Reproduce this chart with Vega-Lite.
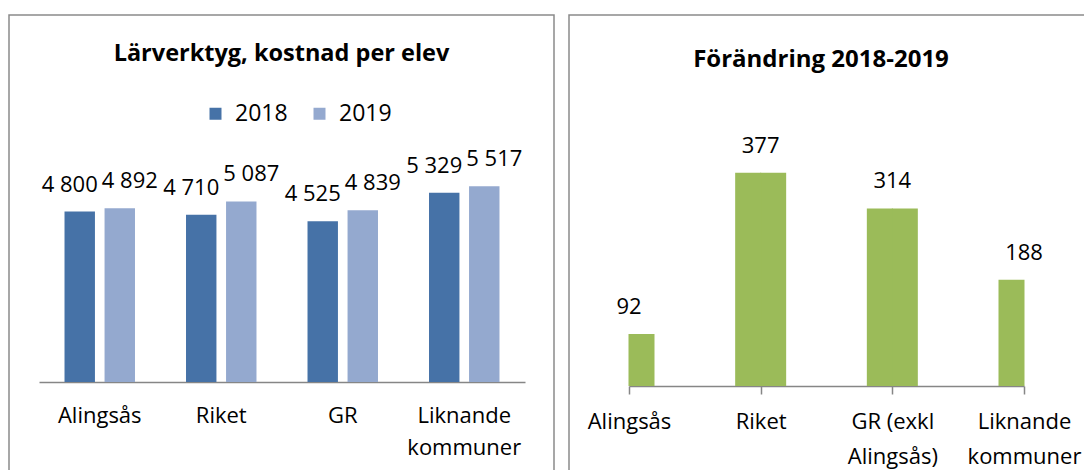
{
  "$schema": "https://vega.github.io/schema/vega-lite/v6.json",
  "padding": {"left": 8, "top": 14, "right": 0, "bottom": 0},
  "background": "white",
  "spacing": 13,
  "config": {
    "font": "Open Sans",
    "view": {"stroke": "#8a8a8a", "strokeWidth": 1.5},
    "locale": {"number": {"decimal": ",", "thousands": " ", "grouping": [3], "currency": ["", " kr"]}},
    "axis": {"labelColor": "#000000", "labelFontSize": 22, "labelFont": "Open Sans", "domainColor": "#868686", "domainWidth": 1.5, "tickColor": "#868686", "tickWidth": 1.5, "grid": false, "labelAngle": 0}
  },
  "datasets": {
    "cost": [
      {"region": "Alingsås", "year": "2018", "value": 4800},
      {"region": "Alingsås", "year": "2019", "value": 4892},
      {"region": "Riket", "year": "2018", "value": 4710},
      {"region": "Riket", "year": "2019", "value": 5087},
      {"region": "GR", "year": "2018", "value": 4525},
      {"region": "GR", "year": "2019", "value": 4839},
      {"region": "Liknande kommuner", "year": "2018", "value": 5329},
      {"region": "Liknande kommuner", "year": "2019", "value": 5517}
    ],
    "change": [
      {"region": "Alingsås", "change": 92},
      {"region": "Riket", "change": 377},
      {"region": "GR (exkl Alingsås)", "change": 314},
      {"region": "Liknande kommuner", "change": 188}
    ]
  },
  "hconcat": [
    {
      "width": 545,
      "height": 456,
      "data": {"name": "cost"},
      "title": {"text": "Lärverktyg, kostnad per elev", "frame": "group", "anchor": "middle", "offset": -50, "fontSize": 23.5, "fontWeight": "bold", "color": "#000000", "font": "Open Sans"},
      "encoding": {
        "x": {
          "field": "region", "type": "nominal",
          "sort": ["Alingsås", "Riket", "GR", "Liknande kommuner"],
          "scale": {"range": [30, 516], "paddingInner": 0.42, "paddingOuter": 0.21},
          "axis": {"title": null, "offset": -89, "ticks": false, "labelPadding": 23, "labelLineHeight": 32,
                   "labelExpr": "datum.label == 'Liknande kommuner' ? ['Liknande', 'kommuner'] : datum.label"}
        },
        "xOffset": {"field": "year", "type": "nominal", "scale": {"paddingInner": 0.24, "paddingOuter": 0}},
        "y": {"field": "value", "type": "quantitative", "scale": {"domain": [-2507, 10338], "nice": false, "zero": false}, "axis": null}
      },
      "layer": [
        {
          "mark": {"type": "bar"},
          "encoding": {
            "color": {
              "field": "year", "type": "nominal",
              "scale": {"domain": ["2018", "2019"], "range": ["#4672A7", "#94A9CF"]},
              "legend": {"title": null, "orient": "none", "legendX": 195, "legendY": 87, "direction": "horizontal",
                         "symbolType": "square", "symbolSize": 144, "symbolStrokeWidth": 0, "labelFontSize": 23,
                         "labelColor": "#000000", "labelOffset": 8, "columnPadding": 20, "padding": 0, "labelFont": "Open Sans"}
            }
          }
        },
        {
          "transform": [{"filter": "datum.year == '2018'"}],
          "mark": {"type": "text", "baseline": "middle", "dy": -27, "dx": -10, "fontSize": 22, "color": "#000000"},
          "encoding": {"text": {"field": "value", "type": "quantitative", "format": ",d"}}
        },
        {
          "transform": [{"filter": "datum.year == '2019'"}],
          "mark": {"type": "text", "baseline": "middle", "dy": -27, "dx": 10, "fontSize": 22, "color": "#000000"},
          "encoding": {"text": {"field": "value", "type": "quantitative", "format": ",d"}}
        }
      ]
    },
    {
      "width": 518,
      "height": 456,
      "data": {"name": "change"},
      "title": {"text": "Förändring 2018-2019", "frame": "group", "anchor": "middle", "offset": -57, "dx": -7, "fontSize": 24, "fontWeight": "bold", "color": "#000000", "font": "Open Sans"},
      "encoding": {
        "x": {
          "field": "region", "type": "nominal",
          "sort": ["Alingsås", "Riket", "GR (exkl Alingsås)", "Liknande kommuner"],
          "scale": {"type": "point", "range": [60, 455], "padding": 0},
          "axis": {"title": null, "offset": -85, "ticks": true, "tickSize": 8, "labelPadding": 17, "labelLineHeight": 35,
                   "labelExpr": "datum.label == 'Liknande kommuner' ? ['Liknande', 'kommuner'] : datum.label == 'GR (exkl Alingsås)' ? ['GR (exkl', 'Alingsås)'] : datum.label"}
        },
        "y": {"field": "change", "type": "quantitative", "scale": {"domain": [-150.3, 656.1], "nice": false, "zero": false}, "axis": null}
      },
      "layer": [
        {
          "transform": [{"filter": "datum.region != 'Liknande kommuner'"}],
          "mark": {"type": "bar", "width": 26, "xOffset": 12.5, "color": "#9BBB59"}
        },
        {
          "transform": [{"filter": "datum.region != 'Alingsås'"}],
          "mark": {"type": "bar", "width": 26, "xOffset": -12.5, "color": "#9BBB59"}
        },
        {
          "mark": {"type": "text", "baseline": "middle", "dy": -27, "fontSize": 22, "color": "#000000"},
          "encoding": {"text": {"field": "change", "type": "quantitative", "format": "d"}}
        }
      ]
    }
  ]
}
